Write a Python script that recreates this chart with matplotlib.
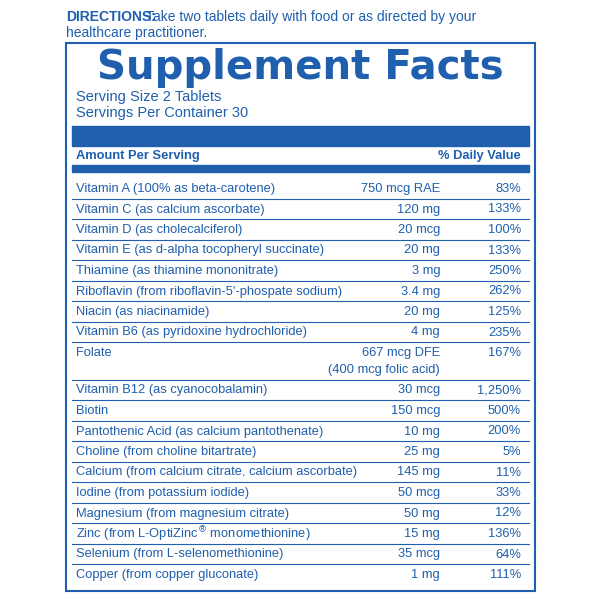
import matplotlib.pyplot as plt
from matplotlib.patches import Rectangle

plt.rcParams['font.family'] = ['Liberation Sans', 'DejaVu Sans']
BLUE = '#1f5fae'

nutrients = ['Vitamin A (100% as beta-carotene)', 'Vitamin C (as calcium ascorbate)',
             'Vitamin D (as cholecalciferol)', 'Vitamin E (as d-alpha tocopheryl succinate)',
             'Thiamine (as thiamine mononitrate)', "Riboflavin (from riboflavin-5'-phospate sodium)",
             'Niacin (as niacinamide)', 'Vitamin B6 (as pyridoxine hydrochloride)', 'Folate',
             'Vitamin B12 (as cyanocobalamin)', 'Biotin', 'Pantothenic Acid (as calcium pantothenate)',
             'Choline (from choline bitartrate)', 'Calcium (from calcium citrate, calcium ascorbate)',
             'Iodine (from potassium iodide)', 'Magnesium (from magnesium citrate)',
             r'Zinc (from L-OptiZinc$^{\circledR}$ monomethionine)', 'Selenium (from L-selenomethionine)',
             'Copper (from copper gluconate)']
amounts = ['750 mcg RAE', '120 mg', '20 mcg', '20 mg', '3 mg', '3.4 mg', '20 mg', '4 mg',
           '667 mcg DFE\n(400 mcg folic acid)', '30 mcg', '150 mcg', '10 mg', '25 mg', '145 mg',
           '50 mcg', '50 mg', '15 mg', '35 mcg', '1 mg']
daily = ['83%', '133%', '100%', '133%', '250%', '262%', '125%', '235%', '167%', '1,250%',
         '500%', '200%', '5%', '11%', '33%', '12%', '136%', '64%', '111%']

fig = plt.figure(figsize=(6, 6), dpi=100)
ax = fig.add_axes([0, 0, 1, 1])
ax.set_xlim(0, 600)
ax.set_ylim(600, 0)
ax.axis('off')

fs = 9.3
ax.text(66, 17, 'DIRECTIONS:', color=BLUE, fontsize=10, fontweight='bold', va='center')
ax.text(146, 17, 'Take two tablets daily with food or as directed by your', color=BLUE,
        fontsize=10, va='center')
ax.text(66, 33, 'healthcare practitioner.', color=BLUE, fontsize=10, va='center')

# border
ax.add_patch(Rectangle((66, 43), 469, 548, fill=False, ec=BLUE, lw=1.5))
ax.text(300, 68, 'Supplement Facts', color=BLUE, fontsize=29, fontweight='bold',
        ha='center', va='center', family=['DejaVu Sans'])
ax.text(76, 97, 'Serving Size 2 Tablets', color=BLUE, fontsize=10.5, va='center')
ax.text(76, 113, 'Servings Per Container 30', color=BLUE, fontsize=10.5, va='center')
ax.add_patch(Rectangle((72, 126), 457, 20, color=BLUE))
ax.text(76, 156, 'Amount Per Serving', color=BLUE, fontsize=fs, fontweight='bold', va='center')
ax.text(521, 156, '% Daily Value', color=BLUE, fontsize=fs, fontweight='bold', va='center', ha='right')
ax.add_patch(Rectangle((72, 165), 457, 7, color=BLUE))

y = 179
step = 20.5
for name, amt, dv in zip(nutrients, amounts, daily):
    h = step + 17 if '\n' in amt else step
    yc = y + 10
    ax.text(76, yc, name, color=BLUE, fontsize=fs, va='center')
    if '\n' in amt:
        a1, a2 = amt.split('\n')
        ax.text(440, yc, a1, color=BLUE, fontsize=fs, va='center', ha='right')
        ax.text(440, yc + 17, a2, color=BLUE, fontsize=fs, va='center', ha='right')
    else:
        ax.text(440, yc, amt, color=BLUE, fontsize=fs, va='center', ha='right')
    ax.text(521, yc, dv, color=BLUE, fontsize=fs, va='center', ha='right')
    y += h
    if name != nutrients[-1]:
        ax.plot([72, 529], [y - 1, y - 1], color=BLUE, lw=0.8)

fig.savefig('out.png', dpi=100)
